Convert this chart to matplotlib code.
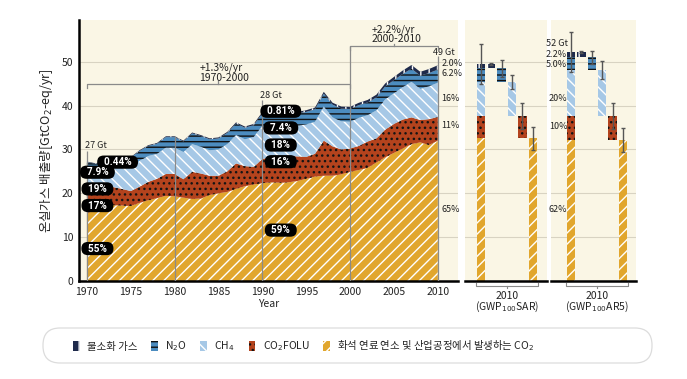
import numpy as np
import matplotlib.pyplot as plt
import matplotlib.transforms as mtransforms
from matplotlib.patches import Patch, FancyBboxPatch

plt.rcParams['font.family'] = ['Noto Sans CJK KR', 'DejaVu Sans']
plt.rcParams['hatch.linewidth'] = 1.0

# ---- data (GtCO2-eq/yr) ----
years = list(range(1970, 2011))
fossil = [15.5, 16.0, 16.7, 17.3, 17.2, 17.1, 17.8, 18.4, 18.9, 19.4,
          19.3, 19.0, 18.7, 18.8, 19.6, 20.0, 20.3, 21.0, 21.6, 22.0,
          22.3, 22.5, 22.4, 22.5, 22.8, 23.3, 23.8, 24.0, 24.0, 24.3,
          24.9, 25.3, 25.8, 27.0, 28.2, 29.2, 30.2, 31.2, 31.6, 31.0, 32.0]
folu = [4.8, 4.5, 4.3, 4.1, 3.8, 3.4, 3.7, 4.2, 4.4, 5.0,
        5.1, 4.2, 6.2, 5.7, 4.4, 4.0, 4.7, 5.8, 4.6, 4.0,
        5.5, 5.8, 6.1, 6.0, 5.6, 5.0, 5.2, 8.0, 6.7, 5.7,
        5.3, 5.5, 6.0, 5.5, 6.3, 6.6, 6.6, 6.1, 5.1, 5.9, 5.4]
ch4 = [4.7, 4.1, 4.1, 4.5, 4.7, 5.4, 5.9, 5.9, 5.7, 6.0,
       6.0, 6.2, 6.3, 6.1, 5.8, 6.0, 6.2, 6.5, 6.1, 6.8,
       7.6, 7.2, 6.8, 6.7, 7.0, 7.4, 7.3, 7.8, 6.6, 6.4,
       6.1, 6.4, 6.0, 6.4, 6.9, 7.0, 7.4, 8.1, 7.1, 7.5, 7.8]
n2o = [2.10, 2.10, 2.15, 2.20, 2.20, 2.20, 2.25, 2.30, 2.30, 2.40,
       2.40, 2.40, 2.45, 2.45, 2.50, 2.50, 2.55, 2.60, 2.65, 2.70,
       2.80, 2.80, 2.80, 2.80, 2.80, 2.85, 2.85, 2.90, 2.90, 2.90,
       2.90, 2.90, 2.90, 2.95, 2.95, 3.00, 3.00, 3.00, 3.00, 3.00, 3.00]
fgas = [0.12, 0.13, 0.13, 0.14, 0.14, 0.15, 0.16, 0.17, 0.18, 0.19,
        0.19, 0.20, 0.20, 0.21, 0.22, 0.23, 0.24, 0.26, 0.27, 0.29,
        0.31, 0.32, 0.33, 0.34, 0.36, 0.38, 0.40, 0.42, 0.44, 0.46,
        0.50, 0.53, 0.57, 0.62, 0.67, 0.72, 0.78, 0.84, 0.89, 0.93, 0.98]

# 2010 bars: fossil, folu, ch4, n2o, fgas
sar_vals = [32.5, 5.1, 7.8, 3.1, 1.0]
sar_err = [2.7, 3.0, 1.6, 1.9, 0.2]
sar_total_err = 4.5
ar5_vals = [32.1, 5.5, 10.5, 2.9, 1.2]
ar5_err = [2.7, 2.9, 2.1, 1.5, 0.2]
ar5_total_err = 4.6

share_1970 = ["0.44%", "7.9%", "19%", "17%", "55%"]
share_1990 = ["0.81%", "7.4%", "18%", "16%", "59%"]
share_2010 = ["2.0%", "6.2%", "16%", "11%", "65%"]
share_ar5 = ["2.2%", "5.0%", "20%", "10%", "62%"]

legend_labels = ["화석 연료 연소 및 산업공정에서 발생하는 CO$_2$", "CO$_2$FOLU",
                 "CH$_4$", "N$_2$O", "불소화 가스"]

# layer styles: fossil, folu, ch4, n2o, fgas
face = ['#E1A62D', '#B4431D', '#A6C8E6', '#4C8CBF', '#1E2A4B']
hatch = ['///', '...', '\\\\\\', '---', '||']
hcol = ['white', '#141414', 'white', '#111111', 'white']

BG = '#FAF6E5'
TXT = '#222222'
GRID = '#d8d3c2'
LINE = '#8a8a8a'

W, H = 687, 379
fig = plt.figure(figsize=(W / 100, H / 100), dpi=100)


def rect(x0, y0, x1, y1):
    return [x0 / W, 1 - y1 / H, (x1 - x0) / W, (y1 - y0) / H]


ax = fig.add_axes(rect(79, 20, 458, 281))
ax2 = fig.add_axes(rect(465, 20, 547, 281))
ax3 = fig.add_axes(rect(551, 20, 636, 281))

for a in (ax, ax2, ax3):
    a.set_facecolor(BG)
    a.set_ylim(0, 59.5)
    a.set_yticks(range(0, 60, 10))
    a.grid(axis='y', color=GRID, lw=0.8)
    a.set_axisbelow(True)
    for s in ('top', 'right', 'left'):
        a.spines[s].set_visible(False)
    a.spines['bottom'].set_linewidth(1.8)
    a.spines['bottom'].set_color('black')
    a.tick_params(length=0, labelsize=7.5, colors=TXT, pad=4)

# ---- main stacked area ----
layers = ax.stackplot(years, fossil, folu, ch4, n2o, fgas, colors=face, zorder=2)
for poly, h, hc in zip(layers, hatch, hcol):
    poly.set_hatch(h)
    poly.set_edgecolor(hc)
    poly.set_linewidth(0)

ax.spines['left'].set_visible(True)
ax.spines['left'].set_linewidth(1.8)
ax.set_xlim(1969.1, 2012.3)
ax.set_xticks(range(1970, 2011, 5))
ax.set_xlabel("Year", fontsize=7.5, color=TXT, labelpad=2)
ax.set_ylabel("온실가스 배출량[GtCO$_2$-eq/yr]", fontsize=9, color=TXT, labelpad=5)

total = np.sum([fossil, folu, ch4, n2o, fgas], axis=0)
ax.vlines([1970, 1980, 1990, 2000, 2010],
          0, [29.6, total[10], 41.3, 53.5, 51.3], color=LINE, lw=0.9, zorder=3)

ax.text(1969.8, 31.0, "27 Gt", fontsize=6.5, color=TXT, va='center')
ax.text(1989.75, 42.4, "28 Gt", fontsize=6.5, color=TXT, va='center')
ax.text(2009.45, 52.1, "49 Gt", fontsize=6.5, color=TXT, va='center')


def bracket(a, x0, x1, y):
    a.plot([x0, x0, x1, x1], [y - 0.8, y, y, y - 0.8], color=LINE, lw=0.9, zorder=3)
    a.plot([(x0 + x1) / 2] * 2, [y, y + 0.6], color=LINE, lw=0.9, zorder=3)


bracket(ax, 1970, 2000, 44.9)
ax.text(1982.8, 48.6, "+1.3%/yr", fontsize=7.5, color=TXT, va='center')
ax.text(1982.8, 46.3, "1970-2000", fontsize=7.5, color=TXT, va='center')
bracket(ax, 2000, 2010, 53.5)
ax.text(2002.5, 57.3, "+2.2%/yr", fontsize=7.5, color=TXT, va='center')
ax.text(2002.5, 55.2, "2000-2010", fontsize=7.5, color=TXT, va='center')

pill = dict(boxstyle='round,pad=0.16,rounding_size=0.65', fc='black', ec='none')
kw = dict(color='white', fontsize=7.2, fontweight='bold', ha='center', va='center',
          family='Roboto', bbox=pill, zorder=5)
for (x, y), s in zip([(1973.5, 27.1), (1971.2, 24.8), (1971.2, 21.0),
                      (1971.2, 17.2), (1971.2, 7.4)], share_1970):
    ax.text(x, y, f"  {s}  ", **kw)
for (x, y), s in zip([(1992.1, 38.7), (1992.1, 34.9), (1992.1, 31.0),
                      (1992.1, 27.2), (1992.1, 11.6)], share_1990):
    ax.text(x, y, f"  {s}  ", **kw)
for y, s in zip([49.6, 47.2, 41.6, 35.4, 16.3], share_2010):
    ax.text(2010.4, y, s, fontsize=6.5, color=TXT, va='center')


# ---- 2010 bar panels ----
def bar_panel(a, vals, errs, terr, xlim, name):
    a.set_xlim(*xlim)
    a.set_xticks([])
    a.tick_params(labelleft=False)
    vals = np.array(vals)
    below = np.concatenate([[0], np.cumsum(vals)[:-1]])
    for j in range(5):
        a.bar(0, vals[j], bottom=below[j], width=0.8, color=face[j],
              edgecolor=hcol[j], hatch=hatch[j], linewidth=0, zorder=2)
        k = 5 - j
        a.bar(k, vals[j], bottom=below[j], width=0.8, color=face[j],
              edgecolor=hcol[j], hatch=hatch[j], linewidth=0, zorder=2)
        a.errorbar(k, below[j] + vals[j], yerr=errs[j], fmt='none', ecolor='#555555',
                   elinewidth=1, capsize=1.5, capthick=1, zorder=4)
    a.errorbar(0, vals.sum(), yerr=terr, fmt='none', ecolor='#555555',
               elinewidth=1, capsize=1.5, capthick=1, zorder=4)
    tr = mtransforms.blended_transform_factory(a.transData, a.transAxes)
    a.plot([-0.45, -0.45, 5.45, 5.45], [-0.008, -0.018, -0.018, -0.008],
           color=LINE, lw=0.8, transform=tr, clip_on=False)
    a.plot([2.5, 2.5], [-0.018, -0.026], color=LINE, lw=0.8, transform=tr, clip_on=False)
    a.text(2.5, -0.056, "2010", fontsize=7.5, color=TXT, ha='center', va='center',
           transform=tr)
    a.text(2.5, -0.098, name, fontsize=7.5, color=TXT, ha='center', va='center',
           transform=tr)


bar_panel(ax2, sar_vals, sar_err, sar_total_err, (-1.52, 6.36), "(GWP$_{100}$SAR)")
bar_panel(ax3, ar5_vals, ar5_err, ar5_total_err, (-1.92, 6.25), "(GWP$_{100}$AR5)")

tr3 = mtransforms.blended_transform_factory(ax3.transAxes, ax3.transData)
ax3.text(-0.06, 54.1, "52 Gt", fontsize=6.5, color=TXT, va='center', transform=tr3)
for (x, y), s in zip([(-0.06, 51.7), (-0.06, 49.4), (-0.025, 41.7),
                      (-0.025, 35.3), (-0.025, 16.4)], share_ar5):
    ax3.text(x, y, s, fontsize=6.5, color=TXT, va='center', transform=tr3)

# ---- legend ----
box = FancyBboxPatch((0.43, 0.16), 6.09, 0.35,
                     boxstyle='round,pad=0,rounding_size=0.17',
                     transform=fig.dpi_scale_trans, fc='white', ec='#dcdcdc', lw=0.9)
fig.patches.append(box)
order = [4, 3, 2, 1, 0]
handles = [Patch(facecolor=face[i], edgecolor=hcol[i], hatch=hatch[i], linewidth=0)
           for i in order]
fig.legend(handles, [legend_labels[i] for i in order], loc='center left',
           bbox_to_anchor=(73 / W, 1 - 346 / H), ncol=5, frameon=False,
           fontsize=7.5, handlelength=0.65, handleheight=1.0, handletextpad=0.7,
           columnspacing=1.3, borderpad=0, borderaxespad=0, labelcolor=TXT)

fig.savefig("out.png", dpi=100)
